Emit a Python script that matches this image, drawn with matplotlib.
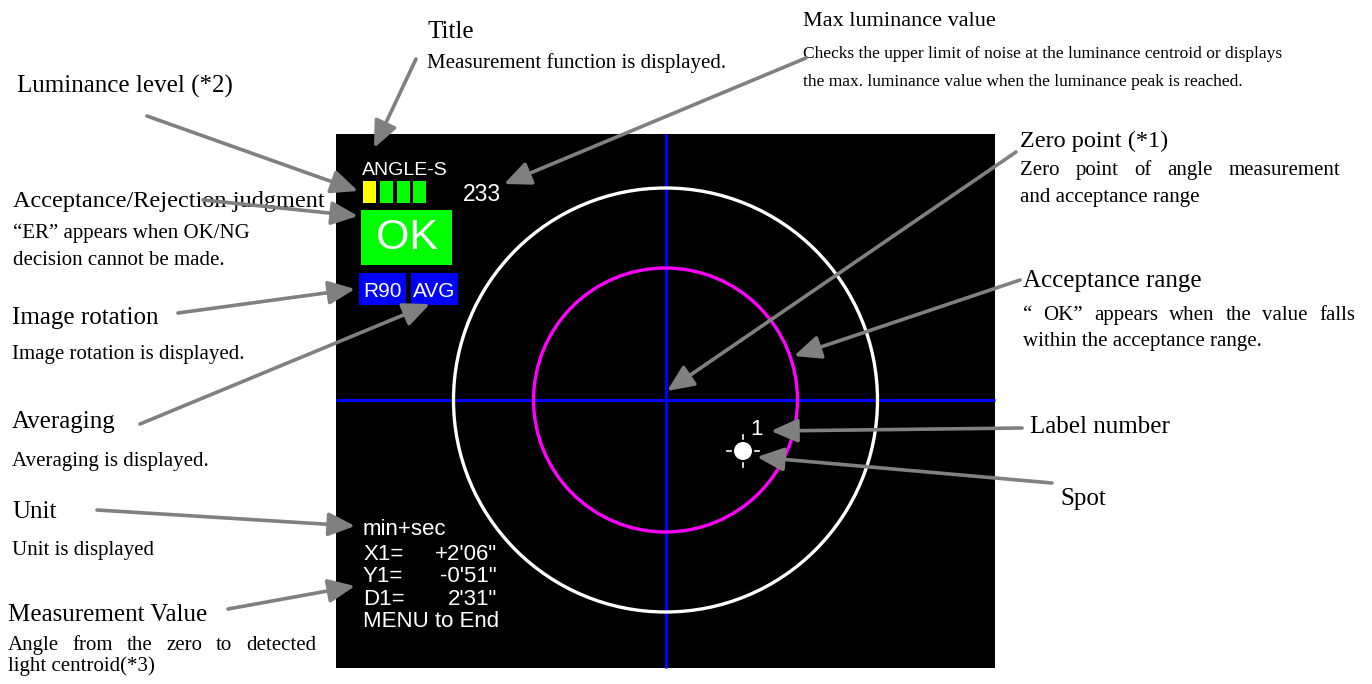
import matplotlib
matplotlib.use("Agg")
import matplotlib.pyplot as plt
from matplotlib.patches import Rectangle, Circle

# ---- content ----
screen_title = "ANGLE-S"
level_colors = ["#ffff00", "#00ff00", "#00ff00", "#00ff00"]
max_luminance = "233"
judgment = "OK"
status_tags = ["R90", "AVG"]
unit_text = "min+sec"
readout_labels = ["X1=", "Y1=", "D1="]
readout_values = ["+2'06\"", "-0'51\"", "2'31\""]
footer_text = "MENU to End"
spot_label = "1"

# callouts: heading, sub lines, heading size, sub size
callouts = [
    ("Title", ["Measurement function is displayed."], 18, 15),
    ("Luminance level (*2)", [], 18, 15),
    ("Max luminance value",
     ["Checks the upper limit of noise at the luminance centroid or displays",
      "the max. luminance value when the luminance peak is reached."], 16, 12.5),
    ("Zero point (*1)", ["Zero point of angle measurement", "and acceptance range"], 17.5, 15),
    ("Acceptance range", ["\u201c OK\u201d appears when the value falls",
                          "within the acceptance range."], 18, 15),
    ("Label number", [], 18, 15),
    ("Spot", [], 18, 15),
    ("Acceptance/Rejection judgment", ["\u201cER\u201d appears when OK/NG",
                                       "decision cannot be made."], 17.5, 15),
    ("Image rotation", ["Image rotation is displayed."], 18, 15),
    ("Averaging", ["Averaging is displayed."], 18, 15),
    ("Unit", ["Unit is displayed"], 18, 15),
    ("Measurement Value", ["Angle from the zero to detected",
                           "light centroid(*3)"], 18, 15),
]

# layout for each callout: x, heading baseline, sub baselines, justify-to x (or None)
callout_pos = [
    (427, 38, [68], None),
    (17, 93, [], None),
    (803, 26, [58, 86], None),
    (1020, 147, [175, 202], 1340),
    (1023, 287, [320, 346], 1355),
    (1030, 433, [], None),
    (1060, 505, [], None),
    (13, 207, [238, 265], None),
    (12, 324, [359], None),
    (12, 428, [466], None),
    (12, 518, [555], None),
    (8, 621, [650, 671], 316),
]

# arrows: (start, tip)
arrows = [
    ((416, 59), (374, 148)),
    ((147, 116), (358, 191)),
    ((203, 200), (358, 216)),
    ((806, 58), (504, 184)),
    ((1016, 152), (667, 391)),
    ((1020, 280), (794, 356)),
    ((1022, 428), (771, 431)),
    ((1052, 483), (757, 457)),
    ((178, 313), (355, 289)),
    ((140, 424), (430, 304)),
    ((97, 510), (355, 526)),
    ((228, 609), (355, 586)),
]

SERIF = ["Liberation Serif", "DejaVu Serif"]
OSD = ["Liberation Sans", "DejaVu Sans"]

fig = plt.figure(figsize=(13.72, 6.84), dpi=100)
ax = fig.add_axes([0, 0, 1, 1])
ax.set_xlim(0, 1372)
ax.set_ylim(684, 0)
ax.axis("off")

# ---- monitor screen ----
ax.add_patch(Rectangle((336, 134), 659, 534, fc="black", ec="none", zorder=1))
cx, cy = 665.5, 400
ax.plot([cx, cx], [134, 668], color="#0000ff", lw=2.2, zorder=2,
        solid_capstyle="butt")
ax.plot([336, 995], [cy, cy], color="#0000ff", lw=2.2, zorder=2,
        solid_capstyle="butt")
ax.add_patch(Circle((cx, cy), 212, fill=False, ec="white", lw=2.4, zorder=3))
ax.add_patch(Circle((cx, cy), 132, fill=False, ec="#ff00ff", lw=2.4, zorder=3))

# spot with small tick marks
sx, sy = 743, 451
ax.add_patch(Circle((sx, sy), 9, fc="white", ec="none", zorder=4))
for dx, dy in [(0, -1), (0, 1), (-1, 0), (1, 0)]:
    ax.plot([sx + dx * 12, sx + dx * 16], [sy + dy * 12, sy + dy * 16],
            color="white", lw=1.2, zorder=4)
ax.text(757, 435, spot_label, color="white", fontsize=16, family=OSD,
        ha="center", va="baseline", zorder=4)

# top-left OSD
ax.text(362, 175, screen_title, color="white", fontsize=14, family=OSD,
        va="baseline", zorder=4)
level_x = [363, 380, 397, 413]
for x, c in zip(level_x, level_colors):
    ax.add_patch(Rectangle((x, 181), 13, 22, fc=c, ec="none", zorder=4))
ax.text(463, 201, max_luminance, color="white", fontsize=16.5, family=OSD,
        va="baseline", zorder=4)
ax.add_patch(Rectangle((361, 210), 91, 55, fc="#00ff00", ec="none", zorder=4))
ax.text(406.5, 238, judgment, color="white", fontsize=31, family=OSD,
        ha="center", va="center", zorder=5)
tag_x = [359, 411]
for x, t in zip(tag_x, status_tags):
    ax.add_patch(Rectangle((x, 273), 47, 32, fc="#0000ff", ec="none", zorder=4))
    ax.text(x + 23.5, 297, t, color="white", fontsize=15, family=OSD,
            ha="center", va="baseline", zorder=5)

# bottom-left readout
ax.text(363, 535, unit_text, color="white", fontsize=16, family=OSD,
        va="baseline", zorder=4)
for i, (lab, val) in enumerate(zip(readout_labels, readout_values)):
    yb = 560 + i * 22.5
    ax.text(363, yb, lab, color="white", fontsize=16, family=OSD,
            va="baseline", zorder=4)
    ax.text(497, yb, val, color="white", fontsize=16, family=OSD,
            ha="right", va="baseline", zorder=4)
ax.text(363, 627, footer_text, color="white", fontsize=16, family=OSD,
        va="baseline", zorder=4)

# ---- callout texts ----
renderer = fig.canvas.get_renderer()
for (head, subs, hs, ss), (x, yh, ysub, jx) in zip(callouts, callout_pos):
    ax.text(x, yh, head, fontsize=hs, family=SERIF, va="baseline", color="black")
    for k, (line, yb) in enumerate(zip(subs, ysub)):
        if jx is not None and k == 0:
            # justified first line
            words = line.split(" ")
            items = [ax.text(0, yb, w, fontsize=ss, family=SERIF, va="baseline")
                     for w in words]
            widths = [t.get_window_extent(renderer).width for t in items]
            gap = (jx - x - sum(widths)) / (len(words) - 1)
            xx = x
            for t, w in zip(items, widths):
                t.set_x(xx)
                xx += w + gap
        else:
            ax.text(x, yb, line, fontsize=ss, family=SERIF, va="baseline")

# ---- arrows ----
for (x0, y0), (x1, y1) in arrows:
    ax.annotate("", xy=(x1, y1), xytext=(x0, y0),
                arrowprops=dict(arrowstyle="-|>,head_length=0.9,head_width=0.4",
                                color="#808080", lw=2.6, mutation_scale=18,
                                shrinkA=0, shrinkB=0),
                zorder=6)

fig.savefig("out.png", dpi=100)
